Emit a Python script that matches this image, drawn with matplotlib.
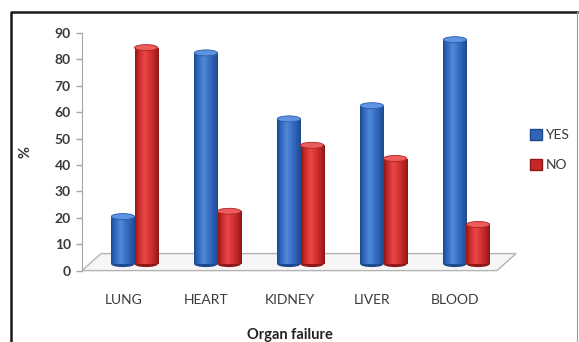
import matplotlib
matplotlib.use("Agg")
import matplotlib.pyplot as plt
import numpy as np
from matplotlib import transforms
from matplotlib.colors import to_rgb
from matplotlib.patches import Ellipse, Polygon, Patch
from matplotlib.lines import Line2D

organs = ["LUNG", "HEART", "KIDNEY", "LIVER", "BLOOD"]
yes = [18, 80, 55, 60, 85]
no = [82, 20, 45, 40, 15]
yticks = list(range(0, 91, 10))

plt.rcParams["font.family"] = ["Lato", "DejaVu Sans"]

W, H = 579, 342
fig = plt.figure(figsize=(W / 100, H / 100), dpi=100)
ax = fig.add_axes([82 / W, (H - 270.6) / H, 415 / W, 237.6 / H])

# colour stops across a cylinder: dark edge, mid, highlight, mid, dark edge
blue = dict(dark="#1d4a8f", mid="#2f64b8", light="#5088da", top="#5d93e3", edge="#2a5aa8")
red = dict(dark="#8e1818", mid="#c82828", light="#e84848", top="#ec5c5c", edge="#b02020")


def cylinder_gradient(c):
    pos = [0.0, 0.15, 0.4, 0.75, 1.0]
    cols = np.array([to_rgb(c["dark"]), to_rgb(c["mid"]), to_rgb(c["light"]),
                     to_rgb(c["mid"]), to_rgb(c["dark"])])
    t = np.linspace(0, 1, 64)
    grad = np.stack([np.interp(t, pos, cols[:, k]) for k in range(3)], axis=-1)
    return grad[np.newaxis, :, :]


# bars stand half-way back on the 3-D floor
depth = transforms.ScaledTranslation(11 / 100, 6.5 / 100, fig.dpi_scale_trans)
bar_tr = ax.transData + depth

bw = 0.28
cap_h = 6 / (237.6 / 90)  # ellipse height in data units
x = np.arange(len(organs))

for vals, off, c in [(yes, -bw / 2, blue), (no, bw / 2, red)]:
    grad = cylinder_gradient(c)
    bars = ax.bar(x + off, vals, width=bw, color=c["mid"], linewidth=0,
                  transform=bar_tr, zorder=3)
    for r in bars:
        x0, h = r.get_x(), r.get_height()
        cx = x0 + bw / 2
        ax.add_patch(Ellipse((cx, 0), bw, cap_h, facecolor=c["dark"], linewidth=0,
                             transform=bar_tr, zorder=2.9))
        im = ax.imshow(grad, extent=(x0, x0 + bw, 0, h), aspect="auto",
                       interpolation="bilinear", transform=bar_tr, zorder=3.1)
        im.set_clip_path(r)
        ax.add_patch(Ellipse((cx, h), bw, cap_h, facecolor=c["top"], edgecolor=c["edge"],
                             linewidth=0.6, transform=bar_tr, zorder=3.2))

# floor of the 3-D plot area
dx, dy = 19 / 415, 17 / 237.6
ax.add_patch(Polygon([(0, 0), (1, 0), (1 + dx, dy), (dx, dy)], closed=True,
                     facecolor="#f6f6f6", edgecolor="#b4b4b4", linewidth=1,
                     transform=ax.transAxes, clip_on=False, zorder=1))

ax.set_xlim(-0.5, 4.5)
ax.set_ylim(0, 90)
ax.set_yticks(yticks)
for s in ["top", "right", "bottom"]:
    ax.spines[s].set_visible(False)
ax.spines["left"].set_color("#a6a6a6")
ax.tick_params(axis="y", length=4, width=1, color="#a6a6a6", labelcolor="#3a3a3a",
               labelsize=10, pad=4)
for lbl in ax.get_yticklabels():
    lbl.set_fontweight("bold")
ax.set_xticks(x, organs)
ax.tick_params(axis="x", length=0, labelcolor="#3a3a3a", labelsize=10, pad=17)

ax.set_xlabel("Organ failure", fontsize=10.5, fontweight="bold", color="#222222", va="center")
ax.xaxis.set_label_coords(0.5, -(335 - 270.6) / 237.6)
ax.set_ylabel("%", fontsize=10.5, fontweight="bold", color="#333333", va="center")
ax.yaxis.set_label_coords((25 - 82) / 415, (270.6 - 152) / 237.6)

handles = [Patch(facecolor=blue["mid"], edgecolor=blue["dark"], label="YES"),
           Patch(facecolor=red["mid"], edgecolor=red["dark"], label="NO")]
fig.legend(handles=handles, loc="upper left", bbox_to_anchor=(530 / W, (H - 129) / H),
           frameon=False, fontsize=10, borderpad=0, borderaxespad=0,
           handlelength=0.85, handleheight=0.85, handletextpad=0.25,
           labelspacing=1.25, labelcolor="#3a3a3a")

# chart frame
fig.add_artist(Line2D([10.5 / W, 10.5 / W, 577 / W], [0, (H - 12) / H, (H - 12) / H],
                      color="#1a1a1a", linewidth=1.8, transform=fig.transFigure))
fig.add_artist(Line2D([577 / W, 577 / W], [0, (H - 12) / H],
                      color="#9a9a9a", linewidth=0.8, transform=fig.transFigure))

fig.savefig("out.png", dpi=100)
